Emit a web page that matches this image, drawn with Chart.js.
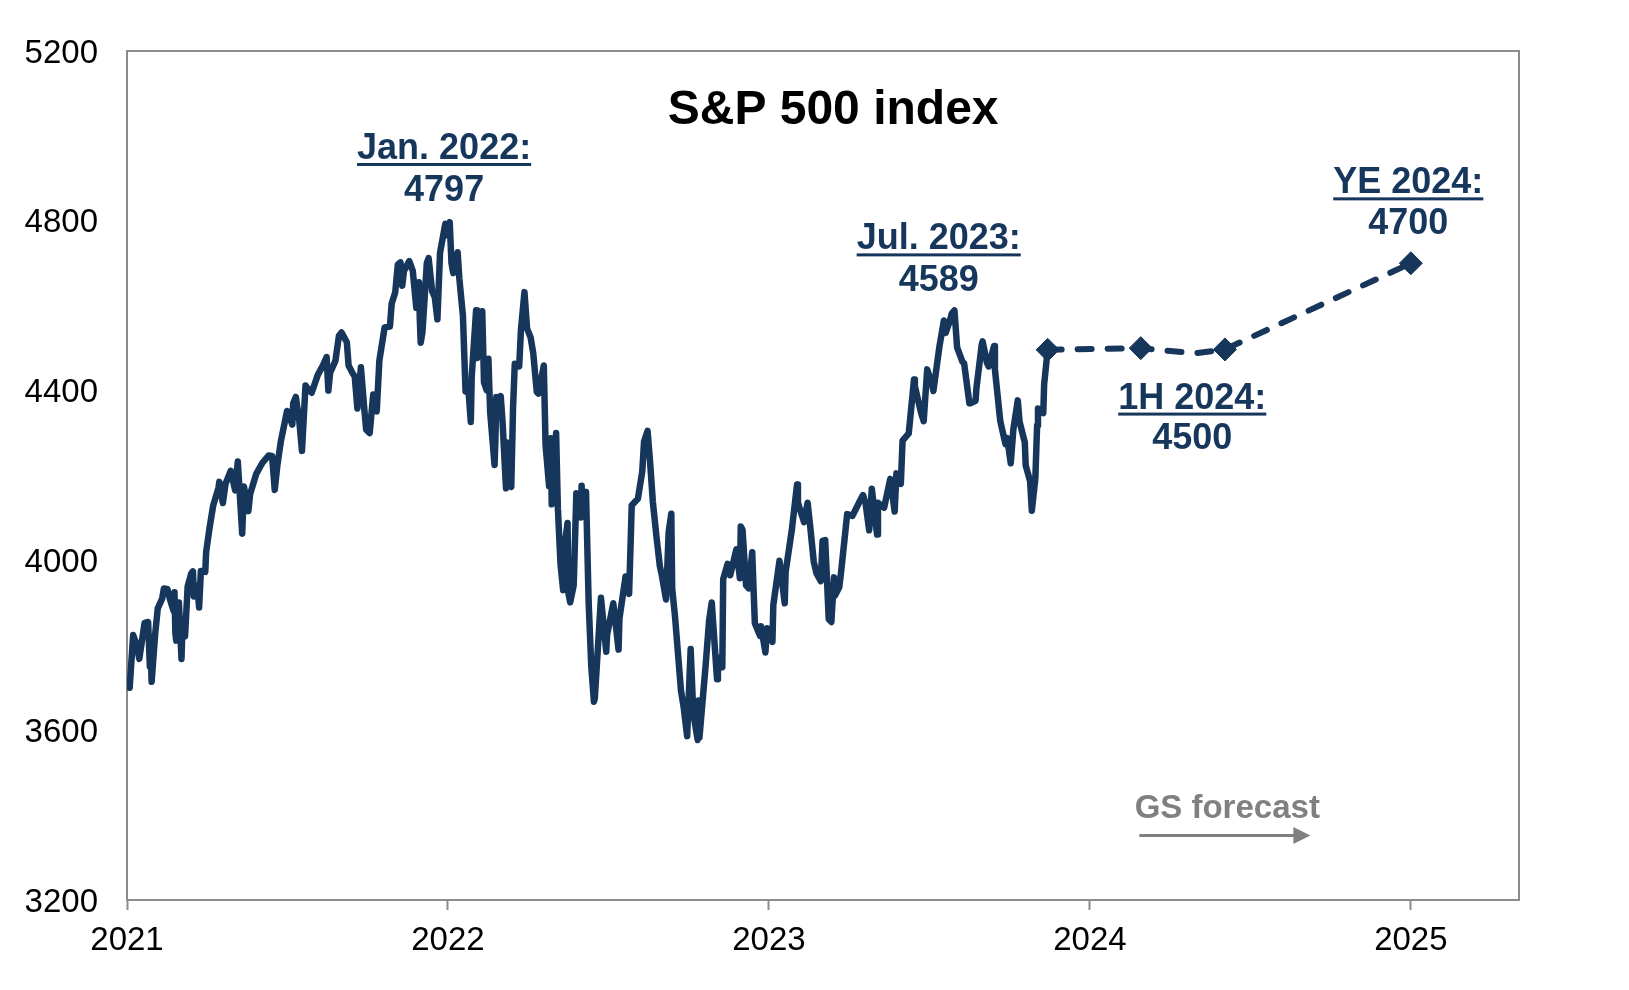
<!DOCTYPE html>
<html>
<head>
<meta charset="utf-8">
<script src="https://cdn.jsdelivr.net/npm/chart.js@4/dist/chart.umd.min.js"></script>
<style>
html,body{margin:0;padding:0;background:#fff;}
#wrap{width:1629px;height:990px;position:relative;}
</style>
</head>
<body>
<div id="wrap"><canvas id="c"></canvas></div>
<script>
// ---------------- DATA ----------------
const actualDates = [
 '2021-01-04','2021-01-08','2021-01-12','2021-01-15','2021-01-21','2021-01-25','2021-01-27','2021-01-28','2021-01-29',
 '2021-02-02','2021-02-05','2021-02-10','2021-02-12','2021-02-16','2021-02-19','2021-02-23','2021-02-24','2021-02-25','2021-02-26',
 '2021-03-01','2021-03-04','2021-03-05','2021-03-08','2021-03-11','2021-03-15','2021-03-17','2021-03-18','2021-03-22','2021-03-24','2021-03-26','2021-03-31',
 '2021-04-01','2021-04-05','2021-04-09','2021-04-15','2021-04-16','2021-04-20','2021-04-23','2021-04-29',
 '2021-05-04','2021-05-07','2021-05-12','2021-05-14','2021-05-19','2021-05-21','2021-05-28',
 '2021-06-04','2021-06-11','2021-06-15','2021-06-18','2021-06-21','2021-06-25',
 '2021-07-02','2021-07-08','2021-07-09','2021-07-12','2021-07-16','2021-07-19','2021-07-23','2021-07-27','2021-07-30',
 '2021-08-06','2021-08-12','2021-08-16','2021-08-18','2021-08-20','2021-08-26','2021-08-30',
 '2021-09-02','2021-09-08','2021-09-10','2021-09-14','2021-09-17','2021-09-20','2021-09-24','2021-09-28','2021-09-30',
 '2021-10-04','2021-10-08','2021-10-12','2021-10-15','2021-10-21','2021-10-27','2021-10-29',
 '2021-11-02','2021-11-05','2021-11-08','2021-11-10','2021-11-12','2021-11-18','2021-11-22','2021-11-26','2021-11-29','2021-11-30',
 '2021-12-01','2021-12-03','2021-12-08','2021-12-10','2021-12-14','2021-12-17','2021-12-20','2021-12-23','2021-12-29','2021-12-31',
 '2022-01-03','2022-01-05','2022-01-07','2022-01-12','2022-01-14','2022-01-18','2022-01-21','2022-01-24','2022-01-27','2022-01-28',
 '2022-02-02','2022-02-03','2022-02-04','2022-02-09','2022-02-11','2022-02-14','2022-02-16','2022-02-18','2022-02-23','2022-02-24','2022-02-25','2022-02-28',
 '2022-03-02','2022-03-04','2022-03-08','2022-03-09','2022-03-11','2022-03-14','2022-03-16','2022-03-18','2022-03-23','2022-03-25','2022-03-29',
 '2022-04-01','2022-04-05','2022-04-08','2022-04-12','2022-04-14','2022-04-20','2022-04-22','2022-04-26','2022-04-27','2022-04-28','2022-04-29',
 '2022-05-04','2022-05-06','2022-05-09','2022-05-12','2022-05-13','2022-05-17','2022-05-18','2022-05-20','2022-05-24','2022-05-27',
 '2022-06-01','2022-06-02','2022-06-03','2022-06-07','2022-06-10','2022-06-13','2022-06-16','2022-06-17','2022-06-24','2022-06-30',
 '2022-07-01','2022-07-08','2022-07-14','2022-07-15','2022-07-22','2022-07-26','2022-07-29',
 '2022-08-05','2022-08-10','2022-08-12','2022-08-16','2022-08-19','2022-08-22','2022-08-26','2022-08-30',
 '2022-09-01','2022-09-06','2022-09-09','2022-09-12','2022-09-13','2022-09-16','2022-09-23','2022-09-26','2022-09-30',
 '2022-10-04','2022-10-07','2022-10-12','2022-10-13','2022-10-14','2022-10-21','2022-10-25','2022-10-28',
 '2022-11-03','2022-11-04','2022-11-09','2022-11-10','2022-11-15','2022-11-18','2022-11-25','2022-11-29','2022-11-30',
 '2022-12-02','2022-12-06','2022-12-09','2022-12-13','2022-12-16','2022-12-22','2022-12-23','2022-12-28','2022-12-30',
 '2023-01-05','2023-01-06','2023-01-13','2023-01-19','2023-01-20','2023-01-27',
 '2023-02-02','2023-02-03','2023-02-10','2023-02-14','2023-02-17','2023-02-21','2023-02-24',
 '2023-03-01','2023-03-03','2023-03-06','2023-03-10','2023-03-13','2023-03-16','2023-03-17','2023-03-22','2023-03-24','2023-03-31',
 '2023-04-06','2023-04-14','2023-04-18','2023-04-21','2023-04-25','2023-04-28',
 '2023-05-04','2023-05-05','2023-05-12','2023-05-19','2023-05-24','2023-05-26','2023-05-31',
 '2023-06-02','2023-06-09','2023-06-15','2023-06-16','2023-06-23','2023-06-26','2023-06-30',
 '2023-07-06','2023-07-07','2023-07-14','2023-07-19','2023-07-21','2023-07-26','2023-07-28','2023-07-31',
 '2023-08-03','2023-08-09','2023-08-11','2023-08-17','2023-08-18','2023-08-24','2023-08-25','2023-08-31',
 '2023-09-01','2023-09-06','2023-09-08','2023-09-14','2023-09-15','2023-09-21','2023-09-22','2023-09-27','2023-09-29',
 '2023-10-03','2023-10-06','2023-10-11','2023-10-13','2023-10-19','2023-10-20','2023-10-25','2023-10-27','2023-10-31',
 '2023-11-02','2023-11-03','2023-11-09','2023-11-10','2023-11-14'
];
const actualValues = [
 3700,3824,3801,3768,3853,3855,3750,3787,3714,
 3826,3887,3910,3934,3932,3907,3881,3925,3829,3811,
 3901,3768,3842,3821,3939,3969,3974,3915,3940,3889,3975,3973,
 4020,4078,4129,4171,4185,4135,4180,4211,
 4165,4233,4063,4174,4116,4156,4204,
 4230,4247,4246,4166,4224,4281,
 4352,4320,4370,4385,4327,4258,4412,4401,4395,
 4437,4460,4479,4400,4442,4470,4529,
 4537,4514,4459,4443,4433,4358,4455,4353,4308,
 4300,4391,4351,4471,4549,4551,4605,
 4631,4697,4702,4647,4682,4705,4682,4595,4655,4567,
 4513,4538,4701,4712,4634,4620,4568,4725,4793,4766,
 4797,4701,4677,4726,4663,4577,4398,4410,4326,4432,
 4589,4477,4500,4587,4419,4401,4475,4349,4225,4288,4385,4374,
 4387,4329,4170,4278,4204,4173,4358,4463,4457,4543,4632,
 4546,4525,4488,4397,4393,4459,4272,4175,4183,4288,4132,
 4300,4123,3991,3930,4023,4088,3923,3901,3941,4158,
 4101,4176,4109,4161,3901,3750,3667,3675,3912,3785,
 3825,3899,3790,3863,3962,3921,4130,
 4145,4210,4280,4305,4228,4138,4058,3986,
 3967,3908,4067,4110,3933,3873,3693,3655,3586,
 3791,3640,3577,3670,3583,3752,3859,3901,
 3720,3771,3748,3956,3992,3965,4026,3958,4080,
 4072,3941,3934,4019,3852,3822,3845,3783,3840,
 3808,3895,3999,3899,3973,4071,
 4179,4136,4090,4136,4079,3997,3970,
 3951,4046,4048,3862,3855,3960,3917,3937,3971,4109,
 4105,4138,4154,4133,4071,4169,
 4061,4136,4124,4192,4115,4205,4180,
 4282,4299,4426,4410,4348,4328,4450,
 4411,4399,4505,4565,4536,4566,4582,4589,
 4502,4468,4464,4370,4370,4376,4406,4508,
 4516,4465,4457,4505,4450,4330,4320,4274,4288,
 4229,4309,4377,4327,4278,4224,4187,4117,4194,
 4318,4358,4347,4415,4496
];
const forecastDates  = ['2023-11-14','2024-02-28','2024-04-30','2024-06-03','2025-01-01'];
const forecastValues = [4496, 4500, 4488, 4497, 4700];
const forecastMarked = [true, true, false, true, true];

const yearTicks  = [2021, 2022, 2023, 2024, 2025];
const valueTicks = [3200, 3600, 4000, 4400, 4800, 5200];

const chartTitle    = 'S&P 500 index';
const calloutHeads  = ['Jan. 2022:', 'Jul. 2023:', '1H 2024:', 'YE 2024:'];
const calloutValues = ['4797', '4589', '4500', '4700'];
const forecastNote  = 'GS forecast';

// ---------------- LAYOUT / STYLE ----------------
const NAVY = '#16365C';
const GRAY = '#8C8C8C';
const NOTE_GRAY = '#808080';
const FONT = '"Liberation Sans", Arial, Helvetica, sans-serif';
const X_MIN = 2021, X_MAX = 2025.337;
const titlePos = {x: 2023.200, y: 5068};
const calloutPos = [
  {x: 2021.988, y1: 4976, y2: 4876},
  {x: 2023.529, y1: 4763, y2: 4666},
  {x: 2024.319, y1: 4388, y2: 4293},
  {x: 2024.992, y1: 4895, y2: 4800}
];
const notePos  = {x: 2024.428, y: 3420};
const arrowPos = {x0: 2024.154, x1: 2024.687, y: 3352};

function toYear(s){
  const [y,m,d] = s.split('-').map(Number);
  const t0 = Date.UTC(y,0,1), t1 = Date.UTC(y+1,0,1);
  return y + (Date.UTC(y,m-1,d) - t0) / (t1 - t0);
}

const actualPts   = actualDates.map((d,i) => ({x: toYear(d), y: actualValues[i]}));
const forecastPts = forecastDates.map((d,i) => ({x: toYear(d), y: forecastValues[i]}));

const decor = {
  id: 'decor',
  beforeDatasetsDraw(chart){
    const {ctx, chartArea: a} = chart;
    ctx.save();
    ctx.strokeStyle = GRAY;
    ctx.lineWidth = 2;
    ctx.strokeRect(a.left, a.top, a.right - a.left, a.bottom - a.top);
    ctx.restore();
  },
  afterDatasetsDraw(chart){
    const {ctx} = chart;
    const xs = chart.scales.x, ys = chart.scales.y;
    ctx.save();
    ctx.textAlign = 'center';
    ctx.textBaseline = 'alphabetic';
    // title
    ctx.fillStyle = '#000';
    ctx.font = 'bold 48px ' + FONT;
    ctx.fillText(chartTitle, xs.getPixelForValue(titlePos.x), ys.getPixelForValue(titlePos.y) + 0.358*48);
    // callouts
    const fs = 36;
    ctx.font = 'bold ' + fs + 'px ' + FONT;
    ctx.fillStyle = NAVY;
    calloutHeads.forEach((h, i) => {
      const p = calloutPos[i];
      const cx = xs.getPixelForValue(p.x);
      const b1 = ys.getPixelForValue(p.y1) + 0.358*fs;
      const b2 = ys.getPixelForValue(p.y2) + 0.358*fs;
      ctx.fillText(h, cx, b1);
      const w = ctx.measureText(h).width;
      ctx.fillRect(cx - w/2, b1 + 4, w, 3);
      ctx.fillText(calloutValues[i], cx, b2);
    });
    // GS forecast note + arrow
    ctx.fillStyle = NOTE_GRAY;
    ctx.font = 'bold 33px ' + FONT;
    ctx.fillText(forecastNote, xs.getPixelForValue(notePos.x), ys.getPixelForValue(notePos.y) + 0.358*33);
    const ax0 = xs.getPixelForValue(arrowPos.x0), ax1 = xs.getPixelForValue(arrowPos.x1), ay = ys.getPixelForValue(arrowPos.y);
    ctx.strokeStyle = NOTE_GRAY;
    ctx.lineWidth = 3;
    ctx.beginPath(); ctx.moveTo(ax0, ay); ctx.lineTo(ax1 - 14, ay); ctx.stroke();
    ctx.beginPath(); ctx.moveTo(ax1, ay); ctx.lineTo(ax1 - 17, ay - 8.5); ctx.lineTo(ax1 - 17, ay + 8.5); ctx.closePath(); ctx.fill();
    ctx.restore();
  }
};

new Chart(document.getElementById('c'), {
  type: 'line',
  data: {
    datasets: [
      {
        data: actualPts,
        borderColor: NAVY,
        borderWidth: 6.5,
        pointRadius: 0,
        tension: 0,
        borderJoinStyle: 'round',
        borderCapStyle: 'round'
      },
      {
        data: forecastPts,
        borderColor: NAVY,
        borderWidth: 6,
        borderDash: [14, 16],
        borderCapStyle: 'round',
        tension: 0,
        pointStyle: 'rectRot',
        pointRadius: forecastMarked.map(m => m ? 11.5 : 0),
        pointBackgroundColor: NAVY,
        pointBorderColor: NAVY,
        pointBorderWidth: 1
      }
    ]
  },
  options: {
    responsive: true,
    maintainAspectRatio: false,
    animation: false,
    devicePixelRatio: 1,
    layout: {padding: {left: 0, top: 51, right: 110, bottom: 0}},
    plugins: {legend: {display: false}, tooltip: {enabled: false}, title: {display: false}},
    scales: {
      x: {
        type: 'linear',
        min: X_MIN, max: X_MAX,
        afterBuildTicks: s => { s.ticks = yearTicks.map(v => ({value: v})); },
        afterFit: s => { s.height = 90; },
        grid: {drawOnChartArea: false, drawTicks: true, tickLength: 10, tickColor: GRAY, tickWidth: 2},
        border: {display: true, color: GRAY, width: 2},
        ticks: {
          color: '#000', padding: 11, maxRotation: 0, autoSkip: false,
          font: {family: FONT, size: 33},
          callback: v => String(v)
        }
      },
      y: {
        type: 'linear',
        min: 3200, max: 5200,
        afterBuildTicks: s => { s.ticks = valueTicks.map(v => ({value: v})); },
        afterFit: s => { s.width = 127; },
        grid: {drawOnChartArea: false, drawTicks: false},
        border: {display: true, color: GRAY, width: 2},
        ticks: {
          color: '#000', padding: 29, labelOffset: 2.5,
          font: {family: FONT, size: 33},
          callback: v => String(v)
        }
      }
    }
  },
  plugins: [decor]
});
</script>
</body>
</html>
